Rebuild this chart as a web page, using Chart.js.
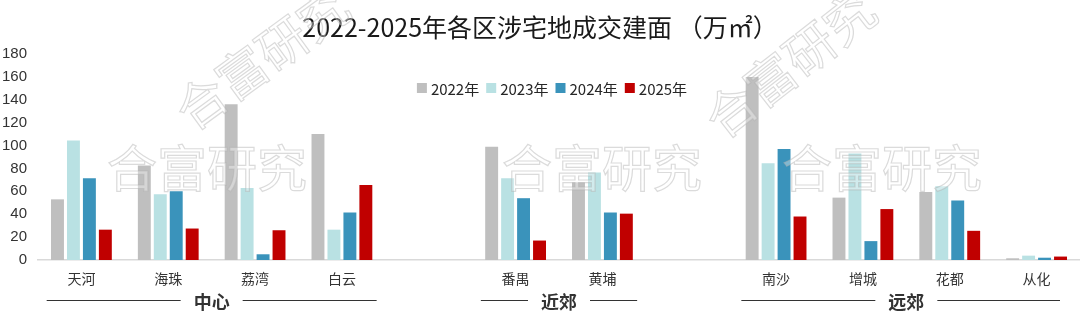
<!DOCTYPE html>
<html>
<head>
<meta charset="utf-8">
<script src="https://cdn.jsdelivr.net/npm/chart.js@4.4.1/dist/chart.umd.min.js"></script>
<style>
  html, body { margin: 0; padding: 0; background: #fff; }
  #wrap { width: 1080px; height: 320px; }
</style>
</head>
<body>
<div id="wrap"><canvas id="land_area"></canvas></div>
<script>
// districts, with empty slots between the zones
const districts = ["天河", "海珠", "荔湾", "白云", "", "番禺", "黄埔", "", "南沙", "增城", "花都", "从化"];
const years = ["2022年", "2023年", "2024年", "2025年"];
const y2022 = [53, 82.5, 136, 110, null, 99, 68, null, 160, 54.5, 59.5, 1.5];
const y2023 = [104.5, 57.5, 63, 26.5, null, 71.5, 76.5, null, 84.5, 93, 64.5, 3.8];
const y2024 = [71.5, 60, 5, 41.5, null, 54, 41.5, null, 97, 16.5, 52, 2];
const y2025 = [26.5, 27.5, 26, 65.5, null, 17, 40.5, null, 38, 44.5, 25.5, 3];
const zones = [
    { name: "中心", from: 0, to: 3 },
    { name: "近郊", from: 5, to: 6 },
    { name: "远郊", from: 8, to: 11 }
];
const colors = ["#BFBFBF", "#B9E1E3", "#3A93BB", "#C00000"];

const FONT = "'Noto Sans CJK SC', 'Noto Sans', sans-serif";

//legend drawn inside the plot like the original
const innerLegend = {
    id: "innerLegend",
    afterDatasetsDraw(chart) {
        const ctx = chart.ctx;
        ctx.save();
        ctx.font = "15px " + FONT;
        ctx.textBaseline = "middle";
        const items = chart.data.datasets.map(d => ({ text: d.label, color: d.backgroundColor, w: 14 + ctx.measureText(d.label).width }));
        const gap = 7;
        const total = items.reduce((s, it) => s + it.w, 0) + gap * (items.length - 1);
        let x = 552 - total / 2;
        const y = 88;
        items.forEach(it => {
            ctx.fillStyle = it.color;
            ctx.fillRect(x, y - 5, 10, 10);
            ctx.fillStyle = "#262626";
            ctx.fillText(it.text, x + 14, y + 1);
            x += it.w + gap;
        });
        ctx.restore();
    }
};

//zone names under the district labels
const zoneLabels = {
    id: "zoneLabels",
    afterDraw(chart) {
        const ctx = chart.ctx;
        const xs = chart.scales.x;
        const step = xs.getPixelForValue(1) - xs.getPixelForValue(0);
        const y = 300;
        ctx.save();
        ctx.font = "bold 18px " + FONT;
        ctx.textAlign = "center";
        ctx.textBaseline = "middle";
        ctx.strokeStyle = "#333";
        ctx.lineWidth = 1;
        zones.forEach(z => {
            const mid = (xs.getPixelForValue(z.from) + xs.getPixelForValue(z.to)) / 2;
            const left = xs.getPixelForValue(z.from) - step * 0.4;
            const right = Math.min(xs.getPixelForValue(z.to) + step * 0.4, 1060);
            ctx.fillStyle = "#333";
            ctx.fillText(z.name, mid, y + 2);
            ctx.beginPath();
            ctx.moveTo(left, y + 0.5);
            ctx.lineTo(mid - 31, y + 0.5);
            ctx.moveTo(mid + 31, y + 0.5);
            ctx.lineTo(right, y + 0.5);
            ctx.stroke();
        });
        ctx.restore();
    }
};

//faint outlined watermark
const watermark = {
    id: "watermark",
    afterDraw(chart) {
        const ctx = chart.ctx;
        const marks = [
            { x: 207, y: 168, a: 0 },
            { x: 602, y: 168, a: 0 },
            { x: 882, y: 168, a: 0 },
            { x: 262, y: 58, a: -36 },
            { x: 790, y: 64, a: -38 }
        ];
        ctx.save();
        ctx.font = "50px " + FONT;
        ctx.textAlign = "center";
        ctx.textBaseline = "middle";
        ctx.lineWidth = 1.2;
        marks.forEach(m => {
            ctx.save();
            ctx.translate(m.x, m.y);
            ctx.rotate(m.a * Math.PI / 180);
            ctx.fillStyle = "rgba(255,255,255,0.35)";
            ctx.fillText("合富研究", 0, 0);
            ctx.strokeStyle = "rgba(175,175,175,0.45)";
            ctx.strokeText("合富研究", 0, 0);
            ctx.restore();
        });
        ctx.restore();
    }
};

const series = [y2022, y2023, y2024, y2025];

new Chart("land_area", {
    type: "bar",
    data: {
        labels: districts,
        datasets: series.map((s, i) => ({
            label: years[i],
            data: s,
            backgroundColor: colors[i],
            categoryPercentage: 0.735,
            barPercentage: 0.81
        }))
    },
    options: {
        responsive: true,
        maintainAspectRatio: false,
        animation: false,
        layout: { padding: { left: 0, right: 0, top: 0, bottom: 0 } },
        plugins: {
            legend: { display: false },
            tooltip: { enabled: false },
            title: {
                display: true,
                text: "2022-2025年各区涉宅地成交建面 （万㎡）",
                color: "#1a1a1a",
                font: { family: FONT, size: 25, weight: "normal" },
                padding: { top: 12, bottom: 12 }
            }
        },
        scales: {
            x: {
                grid: { display: false, drawTicks: false },
                border: { display: true, color: "#d9d9d9", width: 1.5 },
                ticks: { color: "#333", font: { family: FONT, size: 14 }, padding: 10, maxRotation: 0, autoSkip: false },
                afterFit(scale) { scale.height = 60; }
            },
            y: {
                min: 0,
                max: 180,
                grid: { display: false, drawTicks: false },
                border: { display: false },
                ticks: { stepSize: 20, color: "#333", font: { family: "'Liberation Sans', Arial, sans-serif", size: 15 }, padding: 11 },
                afterFit(scale) { scale.width = 38; }
            }
        }
    },
    plugins: [innerLegend, zoneLabels, watermark]
});
</script>
</body>
</html>
